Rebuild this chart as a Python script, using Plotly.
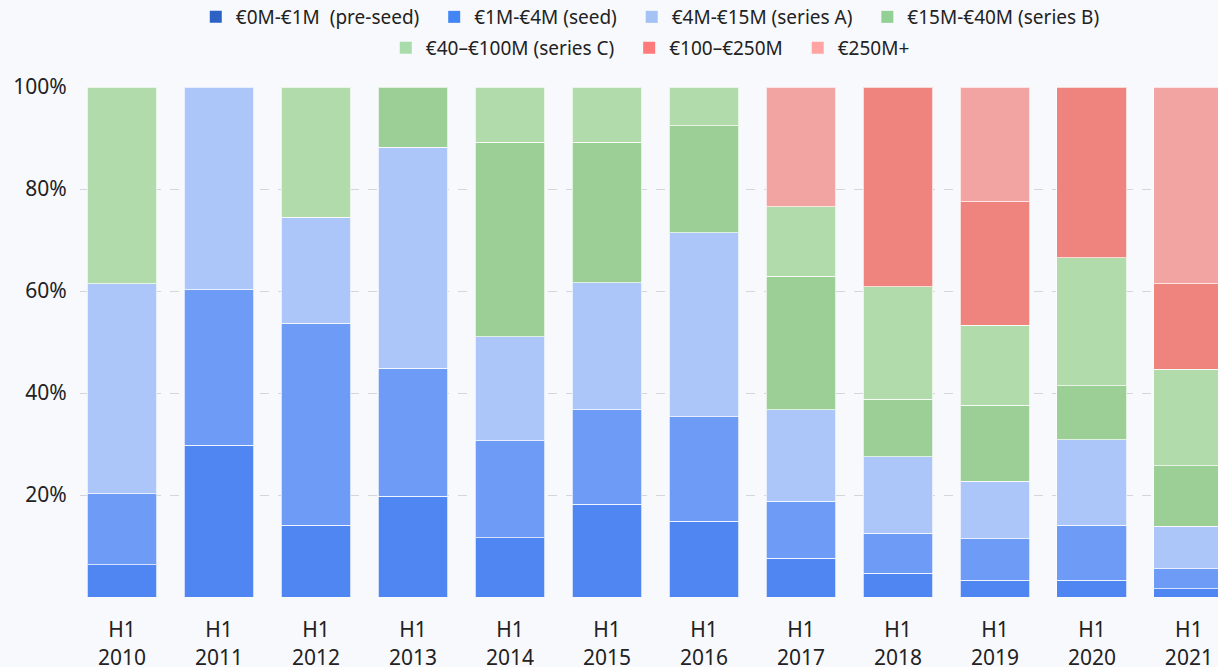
import plotly.graph_objects as go

categories = ["H1<br>2010", "H1<br>2011", "H1<br>2012", "H1<br>2013", "H1<br>2014", "H1<br>2015",
              "H1<br>2016", "H1<br>2017", "H1<br>2018", "H1<br>2019", "H1<br>2020", "H1<br>2021"]

series_names = ["€0M-€1M\u00a0 (pre-seed)", "€1M-€4M (seed)", "€4M-€15M (series A)", "€15M-€40M (series B)",
                "€40–€100M (series C)", "€100–€250M", "€250M+"]

pre_seed = [6.3, 29.8, 14.1, 19.8, 11.6, 18.2, 14.9, 7.6, 4.7, 3.3, 3.3, 1.6]
seed = [13.9, 30.4, 39.6, 25.1, 19.0, 18.5, 20.4, 11.2, 7.8, 8.1, 10.8, 3.9]
series_a = [41.2, 39.8, 20.8, 43.3, 20.4, 24.9, 36.1, 17.9, 15.0, 11.3, 16.7, 8.4]
series_b = [None, None, None, 11.8, 38.2, 27.6, 21.0, 26.2, 11.3, 14.9, 10.6, 11.8]
series_c = [38.6, None, 25.5, None, 10.8, 10.8, 7.6, 13.6, 22.0, 15.7, 25.1, 19.0]
m100_250 = [None, None, None, None, None, None, None, None, 39.2, 24.2, 33.5, 16.7]
m250_plus = [None, None, None, None, None, None, None, 23.5, None, 22.5, None, 38.6]

values = [pre_seed, seed, series_a, series_b, series_c, m100_250, m250_plus]

bar_colors = ["#4f86f2", "#6d9bf5", "#adc6f9", "#9ccf95", "#b1dbab", "#ef837e", "#f2a4a2"]
legend_colors = ["#2d62c5", "#4285f4", "#a4c2f4", "#93d094", "#a8dcab", "#ff7a7a", "#ffa3a3"]

BG = "#f8f9fd"
FONT = "Noto Sans"
TXT = "#222222"

fig = go.Figure()
for name, vals, col in zip(series_names, values, bar_colors):
    fig.add_trace(go.Bar(
        x=categories, y=vals, name=name, showlegend=False,
        marker=dict(color=col, line=dict(color="rgba(255,255,255,0.7)", width=1)),
        hoverinfo="x+y+name",
    ))

for i, (name, col) in enumerate(zip(series_names, legend_colors)):
    fig.add_trace(go.Bar(
        x=[categories[0]], y=[0], name=name + "\u00a0\u00a0", showlegend=True,
        legend="legend" if i < 4 else "legend2",
        marker=dict(color=col, line=dict(width=0)),
        hoverinfo="skip",
    ))

legend_common = dict(orientation="h", xanchor="center", yanchor="middle",
                     xref="container", yref="container",
                     bgcolor="rgba(0,0,0,0)", font=dict(family=FONT, size=19, color=TXT),
                     traceorder="normal", itemclick=False, itemdoubleclick=False)

fig.update_layout(
    barmode="stack",
    bargap=0.28,
    width=1218, height=667,
    margin=dict(l=80, r=0, t=87, b=70, pad=0),
    paper_bgcolor=BG, plot_bgcolor=BG,
    font=dict(family=FONT, size=21, color=TXT),
    legend=dict(x=0.538, y=1 - 17 / 667, **legend_common),
    legend2=dict(x=0.538, y=1 - 48 / 667, **legend_common),
    xaxis=dict(range=[-0.433, 11.3], showgrid=False, zeroline=False, showline=False,
               ticks="outside", ticklen=14, tickcolor="rgba(0,0,0,0)", automargin=False,
               tickfont=dict(family=FONT, size=21, color=TXT)),
    yaxis=dict(range=[0, 100], tickvals=[0, 20, 40, 60, 80, 100],
               ticktext=["", "20%", "40%", "60%", "80%", "100%"],
               showgrid=True, gridcolor="#d4d6dc", griddash="dash", gridwidth=1,
               zeroline=False, showline=False, automargin=False,
               ticks="outside", ticklen=8, tickcolor="rgba(0,0,0,0)",
               tickfont=dict(family=FONT, size=21, color=TXT)),
)

fig.write_html("out.html", config={"displayModeBar": False})

# remove the default 8px page margin so the figure sits at the window's top-left corner
with open("out.html", "r", encoding="utf-8") as f:
    html = f.read()
html = html.replace("<body>", '<body style="margin:0;overflow:hidden;">', 1)
with open("out.html", "w", encoding="utf-8") as f:
    f.write(html)
